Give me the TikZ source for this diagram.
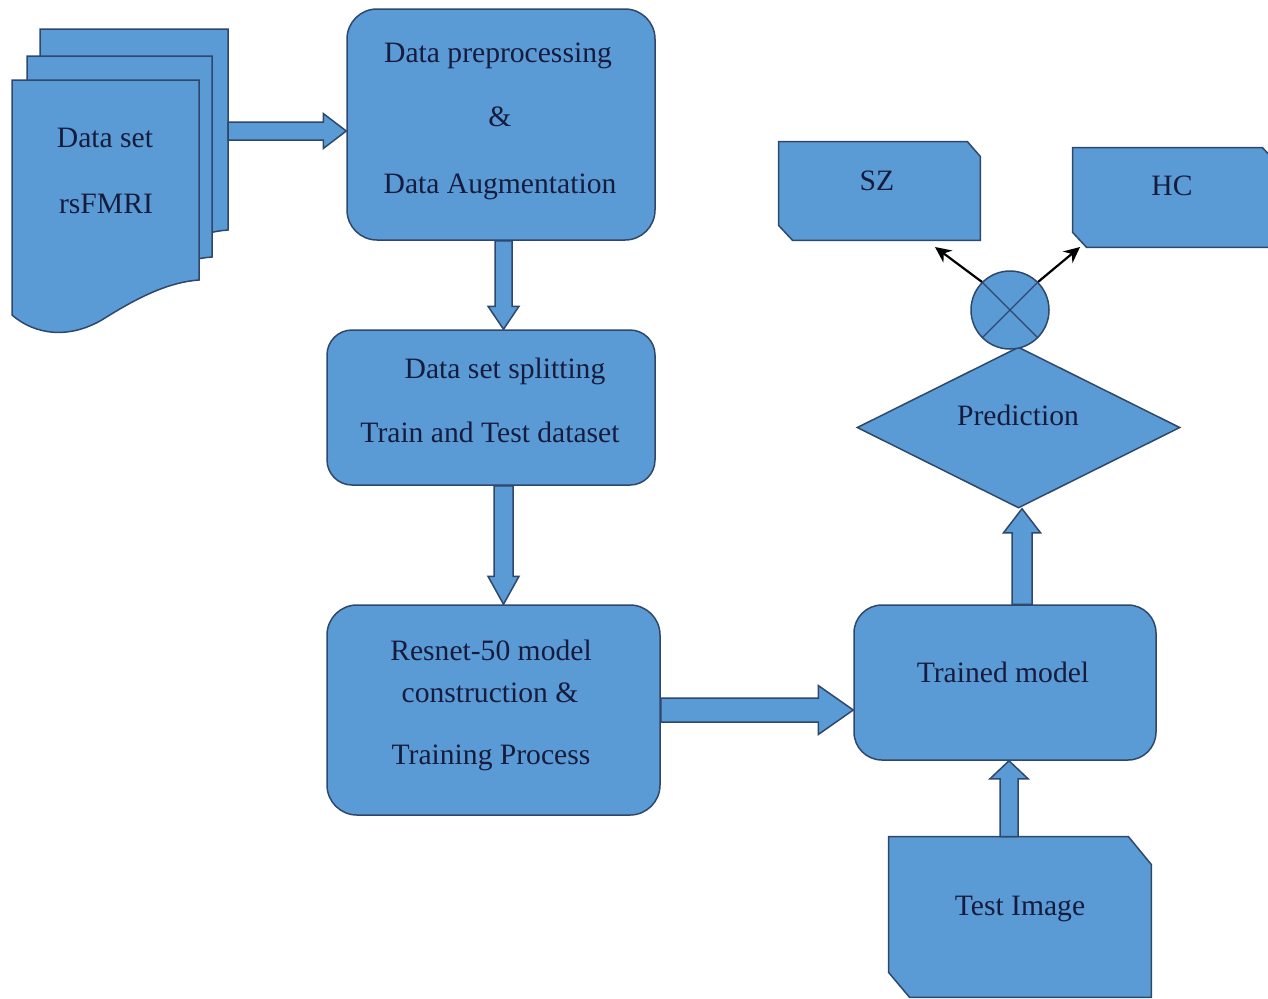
\documentclass[tikz,border=0pt]{standalone}
\usepackage{fontspec}
\setmainfont{Liberation Serif}
\usetikzlibrary{shapes.geometric,calc,arrows.meta}

\definecolor{boxblue}{RGB}{91,155,213}
\definecolor{edgeblue}{RGB}{46,72,108}
\definecolor{inkblue}{RGB}{22,28,62}

% wide block arrow: start, tip, shaft half width, head half width, head length
\newcommand\blockarrow[5]{%
  \coordinate (ba-hb) at ($(#2)!#5!(#1)$);
  \draw[shapeline]
    ($(#1)!#3!90:(#2)$) -- ($(ba-hb)!#3!90:(#2)$) -- ($(ba-hb)!#4!90:(#2)$)
    -- (#2) -- ($(ba-hb)!#4!-90:(#2)$) -- ($(ba-hb)!#3!-90:(#2)$)
    -- ($(#1)!#3!-90:(#2)$) -- cycle;}

% card outline with cut top-right and bottom-left corners
\newcommand\cardoutline[5]{% node, tr dx, tr dy, bl dx, bl dy
  \draw[shapeline]
    (#1.north west) -- ($(#1.north east)+(-#2,0)$) -- ($(#1.north east)+(0,#3)$)
    -- (#1.south east) -- ($(#1.south west)+(#4,0)$) -- ($(#1.south west)+(0,-#5)$)
    -- cycle;}

\begin{document}
\begin{tikzpicture}[x=0.5pt,y=-0.5pt,
  shapeline/.style={draw=edgeblue, fill=boxblue, line width=0.75pt, line join=miter},
  roundbox/.style={shapeline, rectangle, inner sep=0pt, rounded corners=#1},
  frame/.style={rectangle, inner sep=0pt},
  lbl/.style={text=inkblue, font=\fontsize{14.8}{17}\selectfont, anchor=base, inner sep=0pt},
  outarrow/.style={-{Stealth[length=8pt,width=7.5pt]}, line width=1.1pt, black}]

\clip (0,0) rectangle (1268,998);
\fill[white] (0,0) rectangle (1268,998);

% ---- stacked documents ----
\draw[shapeline] (40,29) -- (228,29) -- (228,230)
  .. controls (199,232) and (168,246) .. (133,268)
  .. controls (98,290) and (63,290) .. (40,265) -- cycle;
\draw[shapeline] (27,56) -- (212,56) -- (212,257)
  .. controls (184,259) and (154,272) .. (120,294)
  .. controls (86,316) and (50,316) .. (27,292) -- cycle;
\draw[shapeline] (12,80) -- (199,80) -- (199,280)
  .. controls (170,282) and (140,296) .. (105,318)
  .. controls (70,340) and (35,335) .. (12,315) -- cycle;
\node[frame, minimum width=94pt, minimum height=100pt] (docs) at (105,180) {};
\node[lbl] (tdoc1) at (105,147) {Data set};
\node[lbl] (tdoc2) at (106,213) {rsFMRI};

% ---- process boxes ----
\node[roundbox=15pt, minimum width=154pt, minimum height=115.5pt] (b1) at (501,124.5) {};
\node[lbl] (tb1a) at (498,62) {Data preprocessing};
\node[lbl] (tb1b) at (500,126) {\&};
\node[lbl] (tb1c) at (500,193) {Data Augmentation};

\node[roundbox=12.5pt, minimum width=164pt, minimum height=77.5pt] (b2) at (491,407.5) {};
\node[lbl] (tb2a) at (505,378) {Data set splitting};
\node[lbl] (tb2b) at (490,442) {Train and Test dataset};

\node[roundbox=15pt, minimum width=166.5pt, minimum height=105pt] (b3) at (493.5,710) {};
\node[lbl] (tb3a) at (491,660) {Resnet-50 model};
\node[lbl] (tb3b) at (490,702) {construction \&};
\node[lbl] (tb3c) at (491,764) {Training Process};

\node[roundbox=14pt, minimum width=151pt, minimum height=77.5pt] (tm) at (1005,682.5) {};
\node[lbl] (ttm) at (1003,682) {Trained model};

% ---- test image card ----
\node[frame, minimum width=131pt, minimum height=80pt] (ti) at (1020,917) {};
\cardoutline{ti}{23}{28}{21}{25}
\node[lbl] (tti) at (1020,915) {Test Image};

% ---- decision and outcome ----
\node[shapeline, diamond, inner sep=0pt, minimum width=161.5pt, minimum height=80.5pt] (pred) at (1018.5,427.5) {};
\node[lbl] (tpred) at (1018,425) {Prediction};

\node[shapeline, circle, inner sep=0pt, minimum size=39pt] (ox) at (1010,310) {};
\draw[edgeblue, line width=0.6pt] (ox.north west) -- (ox.south east)
  (ox.north east) -- (ox.south west);

\node[frame, minimum width=100.5pt, minimum height=49pt] (sz) at (879.5,191) {};
\cardoutline{sz}{13}{15}{14}{15}
\node[lbl] (tsz) at (877,190) {SZ};

\node[frame, minimum width=101.5pt, minimum height=49.5pt] (hc) at (1174.5,197.5) {};
\cardoutline{hc}{14}{15}{14}{15}
\node[lbl] (thc) at (1172,195) {HC};

% ---- block arrows ----
\coordinate (a1s) at (228,131);
\blockarrow{a1s}{b1.west |- a1s}{4.5pt}{8.75pt}{11.5pt}

\coordinate (a2s) at ($(b1.south)+(2.5,0)$);
\blockarrow{a2s}{a2s |- b2.north}{4.25pt}{7.75pt}{11.5pt}

\coordinate (a3s) at (a2s |- b2.south);
\blockarrow{a3s}{a3s |- b3.north}{4.75pt}{7.75pt}{14pt}

\blockarrow{b3.east}{b3.east -| tm.west}{6pt}{12.25pt}{17.5pt}

\coordinate (a5s) at ($(ti.north)+(-11,0)$);
\blockarrow{a5s}{a5s |- tm.south}{4.5pt}{9.5pt}{9pt}

\coordinate (a6s) at ($(tm.north)+(17,0)$);
\blockarrow{a6s}{a6s |- pred.south}{5pt}{9.25pt}{12pt}

% ---- outcome arrows ----
\coordinate (szin) at (935,247);
\coordinate (hcin) at (1080,247);
\draw[outarrow] (ox.north west) -- (szin);
\draw[outarrow] (ox.north east) -- (hcin);
\end{tikzpicture}
\end{document}
